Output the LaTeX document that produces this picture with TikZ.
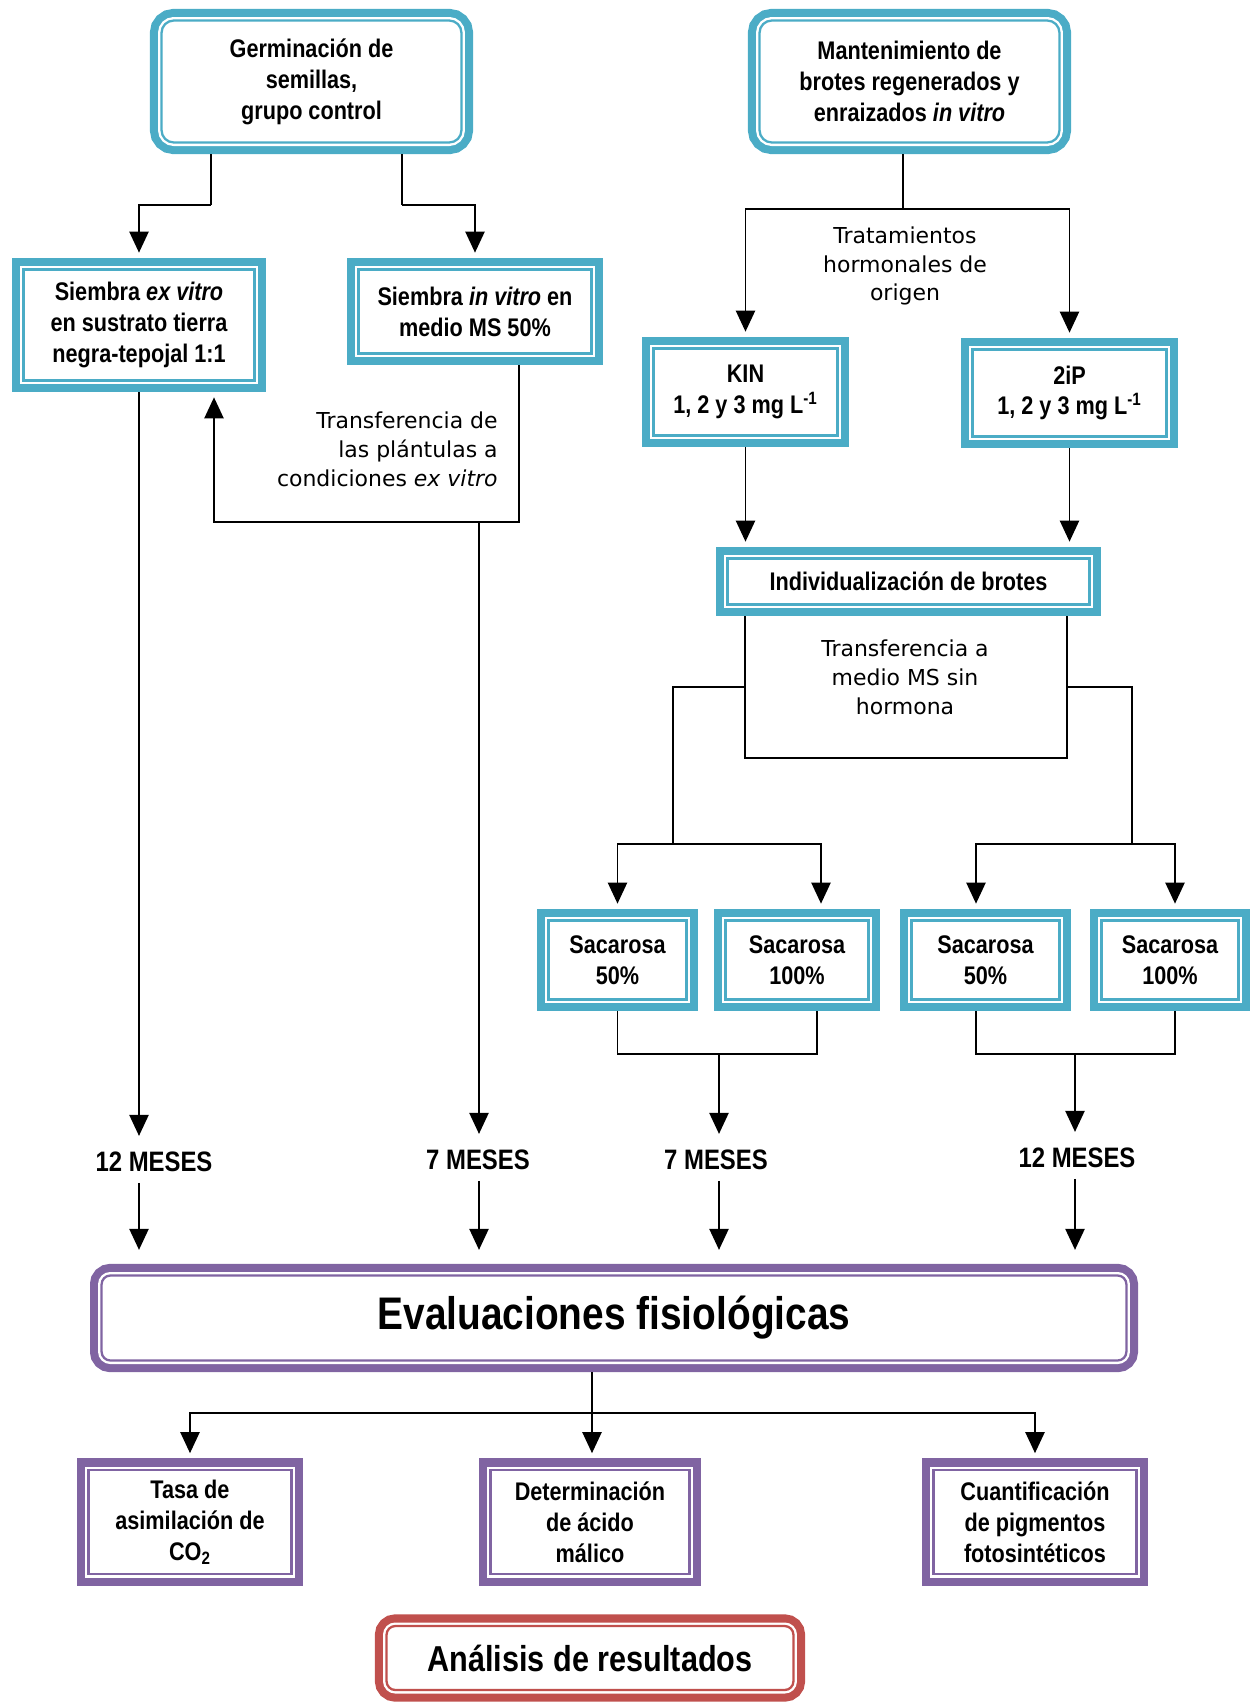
\documentclass[tikz,border=0pt]{standalone}
\usepackage{fontspec}
\usepackage{tikz}
\usetikzlibrary{arrows.meta, positioning, calc}
\newfontfamily\boxfont[FakeStretch=0.85]{Liberation Sans}
\newfontfamily\notefont{DejaVu Sans}
\definecolor{boxteal}{RGB}{75, 172, 198}
\definecolor{boxpurple}{RGB}{128, 100, 162}
\definecolor{boxred}{RGB}{192, 80, 77}

\tikzset{
  dblbox/.style={draw=#1, fill=white, line width=1.3pt, outer sep=6.6pt, inner sep=2pt, align=center,
    font=\boxfont\bfseries\fontsize{14.5}{17.6}\selectfont,
    preaction={draw=#1, line width=13.2pt},
    preaction={draw=white, line width=4pt}},
  tealbox/.style={dblbox=boxteal},
  roundteal/.style={dblbox=boxteal, rounded corners=7pt},
  purplebox/.style={dblbox=boxpurple},
  roundpurple/.style={dblbox=boxpurple, rounded corners=5pt},
  roundred/.style={dblbox=boxred, rounded corners=5pt},
  note/.style={font=\notefont\fontsize{12.5}{16.4}\selectfont, align=center, inner sep=0pt},
  meses/.style={font=\boxfont\bfseries\fontsize{16}{19}\selectfont, inner sep=6pt},
  link/.style={line width=0.85pt},
  arr/.style={link, -{Triangle[length=12pt, width=11pt]}, shorten >=3pt}
}

\begin{document}
\begin{tikzpicture}[x=0.02cm, y=-0.02cm]
    \useasboundingbox (0,0) rectangle (1250,1704);

    % Starting boxes
    \node[roundteal, minimum width=6cm, minimum height=2.44cm] (germ) at (311.5, 81.5) {Germinación de\\semillas,\\grupo control};
    \node[roundteal, minimum width=6cm, minimum height=2.44cm] (mant) at (909.5, 81.5) {Mantenimiento de\\brotes regenerados y\\enraizados \textit{in vitro}};

    % Sowing
    \node[tealbox, minimum width=4.62cm, minimum height=2.22cm] (exvitro) at (139, 325) {Siembra \textit{ex vitro}\\en sustrato tierra\\negra-tepojal 1:1};
    \node[tealbox, minimum width=4.66cm, minimum height=1.68cm] (invitro) at (475, 311.5) {Siembra \textit{in vitro} en\\medio MS 50\%};

    % Hormone treatments
    \node[tealbox, minimum width=3.68cm, minimum height=1.74cm] (kin) at (745.5, 392) {KIN\\1, 2 y 3 mg L\textsuperscript{-1}};
    \node[tealbox, minimum width=3.88cm, minimum height=1.74cm] (dosip) at (1069.5, 393) {2iP\\1, 2 y 3 mg L\textsuperscript{-1}};
    \node[tealbox, minimum width=7.24cm, minimum height=0.92cm] (indiv) at (908.5, 581.5) {Individualización de brotes};

    % Sucrose levels
    \node[tealbox, minimum width=2.76cm, minimum height=1.58cm] (sac1) at (617.5, 960) {Sacarosa\\50\%};
    \node[tealbox, minimum width=2.86cm, minimum height=1.58cm] (sac2) at (797, 960) {Sacarosa\\100\%};
    \node[tealbox, minimum width=2.96cm, minimum height=1.58cm] (sac3) at (985.5, 960) {Sacarosa\\50\%};
    \node[tealbox, minimum width=2.74cm, minimum height=1.58cm] (sac4) at (1170, 960) {Sacarosa\\100\%};

    % Notes on the connectors
    \node[note, align=right, anchor=east] (plant) at (498, 449) {Transferencia de\\las plántulas a\\condiciones \textit{ex vitro}};
    \node[note] (horm) at (905, 266) {Tratamientos\\hormonales de\\origen};
    \node[note] (sinh) at (905, 677) {Transferencia a\\medio MS sin\\hormona};

    % Durations
    \node[meses] (mesesA) at (154, 1162) {12 MESES};
    \node[meses] (mesesB) at (478, 1160) {7 MESES};
    \node[meses] (mesesC) at (716, 1160) {7 MESES};
    \node[meses] (mesesD) at (1077, 1158) {12 MESES};

    % Evaluations
    \node[roundpurple, font=\boxfont\bfseries\fontsize{26}{30}\selectfont, minimum width=20.5cm, minimum height=1.7cm] (eval) at (614, 1318) {Evaluaciones fisiológicas};
    \node[purplebox, minimum width=4.06cm, minimum height=2.08cm] (tasa) at (190, 1522) {Tasa de\\asimilación de\\CO\textsubscript{2}};
    \node[purplebox, minimum width=3.98cm, minimum height=2.08cm] (deter) at (590, 1522) {Determinación\\de ácido\\málico};
    \node[purplebox, minimum width=4.06cm, minimum height=2.08cm] (cuant) at (1035, 1522) {Cuantificación\\de pigmentos\\fotosintéticos};
    \node[roundred, font=\boxfont\bfseries\fontsize{20.5}{24}\selectfont, minimum width=8.14cm, minimum height=1.28cm] (anal) at (590, 1658) {Análisis de resultados};

    % Seed branch
    \coordinate (gl) at (211, 205);
    \coordinate (gr) at (402, 205);
    \draw[link] (germ.south -| gl) -- (gl);
    \draw[arr] (gl) -| (exvitro.north);
    \draw[link] (germ.south -| gr) -- (gr);
    \draw[arr] (gr) -| (invitro.north);

    % Transfer to ex vitro
    \coordinate (tr) at (519, 522);
    \coordinate (tl) at (214, 522);
    \coordinate (tm) at (479, 522);
    \draw[arr] (invitro.south -| tr) -- (tr) -- (tl) -- (exvitro.south -| tl);
    \draw[arr] (exvitro.south) -- (mesesA.north -| exvitro.south);
    \draw[arr] (tm) -- (mesesB.north -| tm);

    % Hormone branch
    \coordinate (mh) at (903, 209);
    \draw[link] (mant.south -| mh) -- (mh);
    \draw[arr] (mh) -| (kin.north);
    \draw[arr] (mh) -| (dosip.north);
    \draw[arr] (kin.south) -- (indiv.north -| kin.south);
    \draw[arr] (dosip.south) -- (indiv.north -| dosip.south);

    % Transfer to hormone-free medium
    \coordinate (il) at (745, 758);
    \coordinate (ir) at (1067, 758);
    \coordinate (bl) at (673, 687);
    \coordinate (br) at (1132, 687);
    \coordinate (sl) at (673, 844);
    \coordinate (sr) at (1132, 844);
    \coordinate (s2) at (821, 844);
    \coordinate (s3) at (976, 844);
    \coordinate (s4) at (1175, 844);
    \draw[link] (indiv.south -| il) -- (il) -- (ir) -- (indiv.south -| ir);
    \draw[link] (il |- bl) -- (bl) -- (sl);
    \draw[link] (ir |- br) -- (br) -- (sr);
    \draw[arr] (sl) -| (sac1.north);
    \draw[arr] (sl) -- (s2) -- (sac2.north -| s2);
    \draw[arr] (sr) -- (s3) -- (sac3.north -| s3);
    \draw[arr] (sr) -- (s4) -- (sac4.north -| s4);

    % Joining the sucrose levels
    \coordinate (jl) at (719, 1054);
    \coordinate (j2) at (817, 1054);
    \coordinate (j3) at (976, 1054);
    \coordinate (j4) at (1175, 1054);
    \coordinate (jr) at (1075, 1054);
    \draw[link] (sac1.south) |- (j2) -- (sac2.south -| j2);
    \draw[link] (sac3.south -| j3) -- (j3) -- (j4) -- (sac4.south -| j4);
    \draw[arr] (jl) -- (mesesC.north -| jl);
    \draw[arr] (jr) -- (mesesD.north -| jr);

    % Into the evaluations
    \draw[arr, shorten >=8pt] (mesesA.south -| exvitro.south) -- (eval.north -| exvitro.south);
    \draw[arr, shorten >=8pt] (mesesB.south -| tm) -- (eval.north -| tm);
    \draw[arr, shorten >=8pt] (mesesC.south -| jl) -- (eval.north -| jl);
    \draw[arr, shorten >=8pt] (mesesD.south -| jr) -- (eval.north -| jr);

    % Physiological measurements
    \coordinate (eh) at (592, 1413);
    \draw[link] (eval.south -| eh) -- (eh);
    \draw[arr] (eh) -| (tasa.north);
    \draw[arr] (eh) -- (deter.north -| eh);
    \draw[arr] (eh) -| (cuant.north);
\end{tikzpicture}
\end{document}
